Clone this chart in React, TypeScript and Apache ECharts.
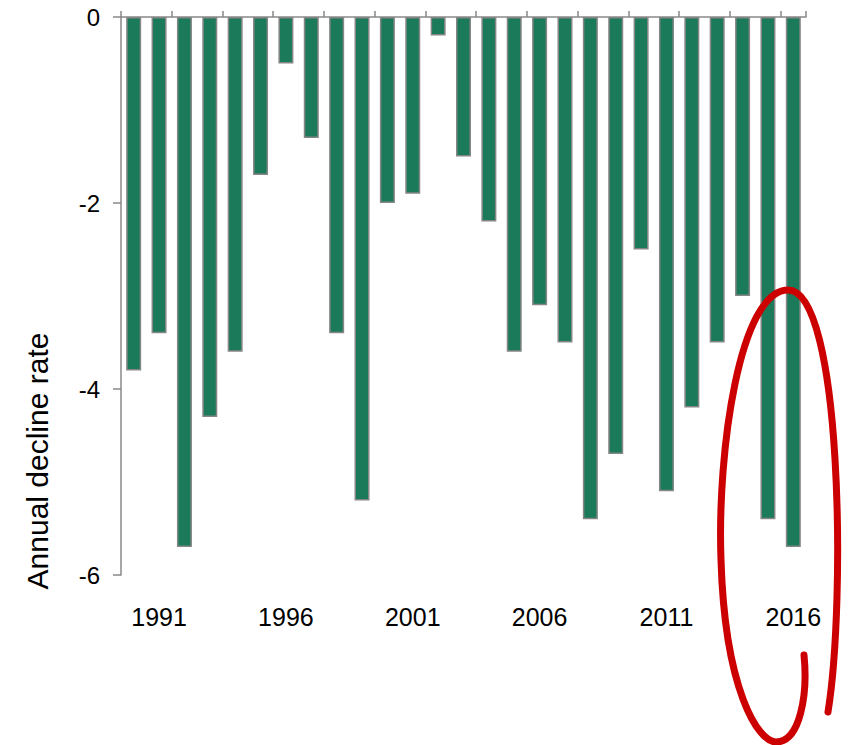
import React, { useEffect, useRef } from "react";
import * as echarts from "echarts";

const years: string[] = [
  "1990", "1991", "1992", "1993", "1994", "1995", "1996", "1997", "1998",
  "1999", "2000", "2001", "2002", "2003", "2004", "2005", "2006", "2007",
  "2008", "2009", "2010", "2011", "2012", "2013", "2014", "2015", "2016",
];
const declineRate: number[] = [
  -3.8, -3.4, -5.7, -4.3, -3.6, -1.7, -0.5, -1.3, -3.4,
  -5.2, -2.0, -1.9, -0.2, -1.5, -2.2, -3.6, -3.1, -3.5,
  -5.4, -4.7, -2.5, -5.1, -4.2, -3.5, -3.0, -5.4, -5.7,
];
const yTicks = { min: -6, max: 0, interval: 2 };
const yAxisTitle = "Annual decline rate";
const labelYears = ["1991", "1996", "2001", "2006", "2011", "2016"];

const loopPath =
  "M 828 712 C 846 600 842 290 788 290 C 740 290 717 450 721 560 C 725 690 758 742 776 742 C 800 742 808 695 804 655";

let registered = false;

export default function App() {
  const ref = useRef<HTMLDivElement>(null);
  useEffect(() => {
    document.body.style.margin = "0";
    if (!registered) {
      echarts.graphic.registerShape("loop", echarts.graphic.extendPath(loopPath, {}) as any);
      registered = true;
    }
    const chart = echarts.init(ref.current!, null, { renderer: "svg" });
    const font = "'Liberation Sans', Arial, sans-serif";
    chart.setOption({
      animation: false,
      backgroundColor: "#ffffff",
      grid: { left: 121, right: 42, top: 17, bottom: 170 },
      xAxis: [
        {
          type: "category",
          position: "top",
          data: years,
          boundaryGap: true,
          axisLine: { show: true, lineStyle: { color: "#888888", width: 1.5 } },
          axisTick: { show: true, length: 6, lineStyle: { color: "#888888", width: 1.5 } },
          axisLabel: { show: false },
          splitLine: { show: false },
        },
        {
          type: "category",
          position: "bottom",
          data: years,
          axisLine: { show: false },
          axisTick: { show: false },
          axisLabel: {
            show: true,
            interval: (_i: number, v: string) => labelYears.includes(v),
            margin: 29,
            fontSize: 25,
            color: "#000000",
            fontFamily: font,
          },
          splitLine: { show: false },
        },
      ],
      yAxis: {
        type: "value",
        min: yTicks.min,
        max: yTicks.max,
        interval: yTicks.interval,
        axisLine: { show: true, lineStyle: { color: "#888888", width: 1.5 } },
        axisTick: { show: true, length: 8, lineStyle: { color: "#888888", width: 1.5 } },
        axisLabel: { fontSize: 24, color: "#000000", margin: 21, fontFamily: font },
        splitLine: { show: false },
      },
      series: [
        {
          type: "bar",
          data: declineRate,
          xAxisIndex: 0,
          barWidth: 15,
          itemStyle: { color: "#1b7a59", borderColor: "#868686", borderWidth: 1.5 },
        },
      ],
      graphic: [
        {
          type: "text",
          x: 37,
          y: 461,
          rotation: Math.PI / 2,
          style: {
            text: yAxisTitle,
            fontSize: 30,
            fontFamily: font,
            fill: "#000000",
            align: "center",
            verticalAlign: "middle",
          },
        },
        {
          type: "loop",
          x: 0,
          y: 0,
          z: 100,
          style: { fill: "none", stroke: "#cc0000", lineWidth: 7, lineCap: "round" },
        },
      ],
    });
    return () => chart.dispose();
  }, []);
  return <div ref={ref} style={{ width: 848, height: 745 }} />;
}
